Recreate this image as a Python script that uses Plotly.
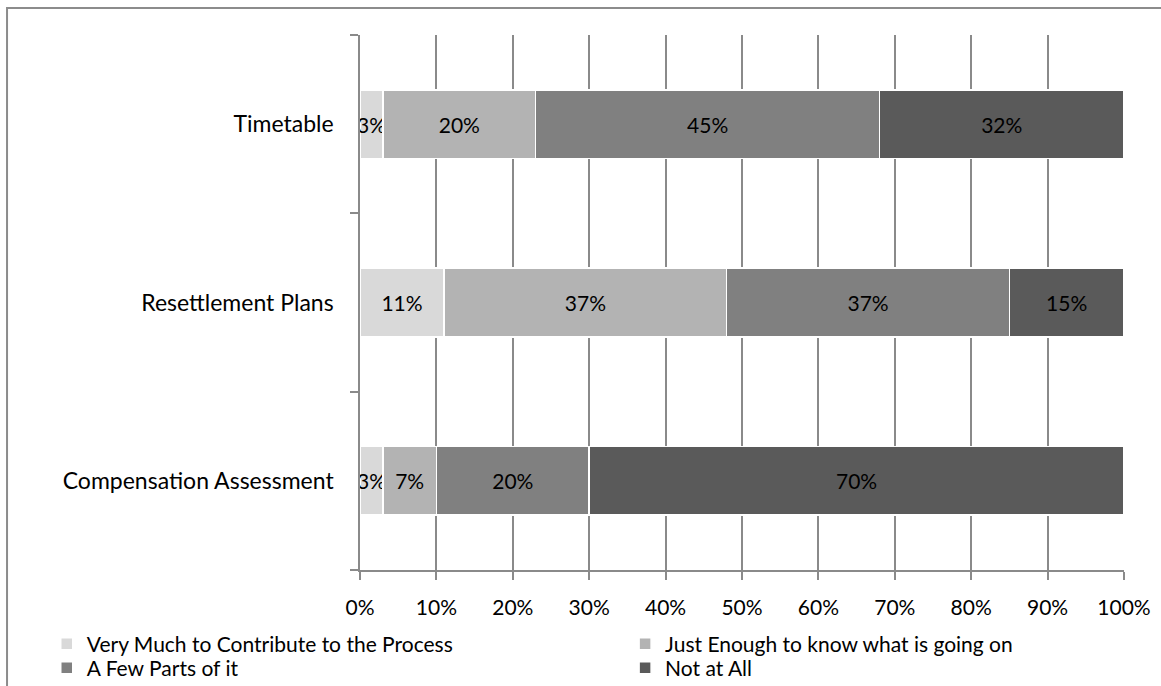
import plotly.graph_objects as go

categories = ["Compensation Assessment", "Resettlement Plans", "Timetable"]
series_names = [
    "Very Much to Contribute to the Process",
    "Just Enough to know what is going on",
    "A Few Parts of it",
    "Not at All",
]
very_much = [3, 11, 3]
just_enough = [7, 37, 20]
few_parts = [20, 37, 45]
not_at_all = [70, 15, 32]
series_values = [very_much, just_enough, few_parts, not_at_all]
colors = ["#d9d9d9", "#b3b3b3", "#808080", "#5a5a5a"]
legend_ids = ["legend", "legend2", "legend3", "legend4"]
x_ticks = [0, 10, 20, 30, 40, 50, 60, 70, 80, 90, 100]
x_tick_labels = [f"{v}%" for v in x_ticks]

FONT = "Lato"
FS = 21
fig = go.Figure()
for name, vals, col, lg in zip(series_names, series_values, colors, legend_ids):
    fig.add_trace(go.Bar(
        y=categories, x=vals, name=name, orientation="h", legend=lg,
        marker=dict(color=col, line=dict(color="white", width=1.5)),
        text=[f"{v}%" for v in vals], textposition="inside", textangle=0,
        insidetextanchor="middle", constraintext="none",
        textfont=dict(family=FONT, size=FS, color="black"),
        hoverinfo="skip",
    ))

leg_common = dict(orientation="v", yanchor="middle", xanchor="left",
                  font=dict(family=FONT, size=FS, color="black"),
                  bgcolor="rgba(0,0,0,0)", borderwidth=0, itemclick=False,
                  traceorder="normal", tracegroupgap=0)
col_x = [-0.41, 0.347]
row_y = [-0.1383, -0.1832]

fig.update_layout(
    barmode="stack", bargap=0.615,
    width=1161, height=686,
    margin=dict(l=360, r=37, t=35, b=116, autoexpand=False),
    paper_bgcolor="white", plot_bgcolor="white",
    font=dict(family=FONT, size=FS, color="black"),
    showlegend=True,
    legend=dict(x=col_x[0], y=row_y[0], **leg_common),
    legend2=dict(x=col_x[1], y=row_y[0], **leg_common),
    legend3=dict(x=col_x[0], y=row_y[1], **leg_common),
    legend4=dict(x=col_x[1], y=row_y[1], **leg_common),
    xaxis=dict(range=[0, 100], tickvals=x_ticks, ticktext=x_tick_labels,
               showgrid=True, gridcolor="#8a8a8a", gridwidth=1.5,
               showline=True, linecolor="#8a8a8a", linewidth=1.5,
               ticks="outside", ticklen=8, tickcolor="#8a8a8a", tickwidth=1.5,
               ticklabelstandoff=10, zeroline=False, fixedrange=True),
    yaxis=dict(range=[-0.5, 2.5], showline=True, linecolor="#8a8a8a", linewidth=1.5,
               ticks="outside", tickson="boundaries", ticklen=8,
               tickcolor="#8a8a8a", tickwidth=1.5, ticklabelstandoff=20,
               tickfont=dict(family=FONT, size=23, color="black"),
               showgrid=False, zeroline=False, fixedrange=True),
    shapes=[dict(type="rect", xref="paper", yref="paper",
                 x0=-0.462, x1=1.2, y0=-0.4, y1=1.0505,
                 line=dict(color="#8c8c8c", width=2), fillcolor="rgba(0,0,0,0)",
                 layer="below")],
)

fig.write_html("out.html")
